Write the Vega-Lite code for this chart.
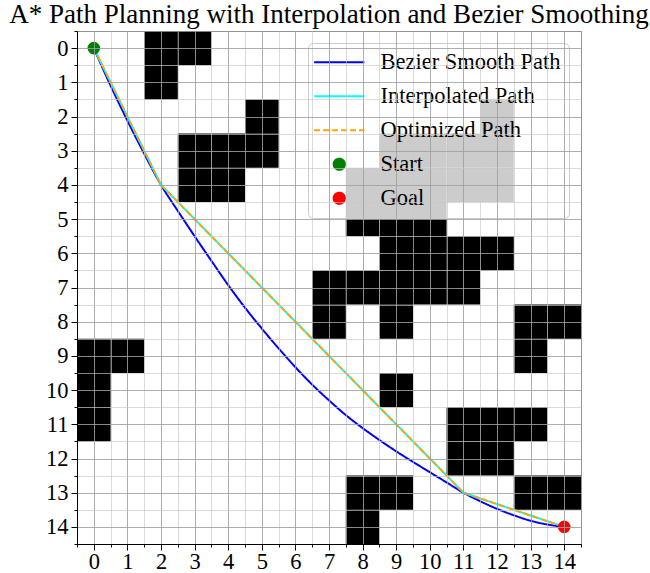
{
  "$schema": "https://vega.github.io/schema/vega-lite/v6.json",
  "width": 504,
  "height": 513,
  "autosize": {"type": "none"},
  "padding": {"left": 77, "top": 31, "right": 69, "bottom": 29},
  "background": "white",
  "title": {
    "text": "A* Path Planning with Interpolation and Bezier Smoothing",
    "font": "Liberation Serif",
    "fontSize": 27,
    "fontWeight": "normal",
    "color": "black",
    "anchor": "middle",
    "offset": 2
  },
  "config": {
    "view": {"stroke": "#333333", "strokeWidth": 1},
    "font": "Liberation Serif"
  },
  "datasets": {
    "obstacles": [
      {"x0": 1.5, "x1": 2.5, "y0": -0.5, "y1": 0.5},
      {"x0": 2.5, "x1": 3.5, "y0": -0.5, "y1": 0.5},
      {"x0": 1.5, "x1": 2.5, "y0": 0.5, "y1": 1.5},
      {"x0": 4.5, "x1": 5.5, "y0": 1.5, "y1": 2.5},
      {"x0": 11.5, "x1": 12.5, "y0": 1.5, "y1": 2.5},
      {"x0": 2.5, "x1": 3.5, "y0": 2.5, "y1": 3.5},
      {"x0": 3.5, "x1": 4.5, "y0": 2.5, "y1": 3.5},
      {"x0": 4.5, "x1": 5.5, "y0": 2.5, "y1": 3.5},
      {"x0": 8.5, "x1": 9.5, "y0": 2.5, "y1": 3.5},
      {"x0": 9.5, "x1": 10.5, "y0": 2.5, "y1": 3.5},
      {"x0": 10.5, "x1": 11.5, "y0": 2.5, "y1": 3.5},
      {"x0": 11.5, "x1": 12.5, "y0": 2.5, "y1": 3.5},
      {"x0": 2.5, "x1": 3.5, "y0": 3.5, "y1": 4.5},
      {"x0": 3.5, "x1": 4.5, "y0": 3.5, "y1": 4.5},
      {"x0": 7.5, "x1": 8.5, "y0": 3.5, "y1": 4.5},
      {"x0": 8.5, "x1": 9.5, "y0": 3.5, "y1": 4.5},
      {"x0": 9.5, "x1": 10.5, "y0": 3.5, "y1": 4.5},
      {"x0": 10.5, "x1": 11.5, "y0": 3.5, "y1": 4.5},
      {"x0": 11.5, "x1": 12.5, "y0": 3.5, "y1": 4.5},
      {"x0": 7.5, "x1": 8.5, "y0": 4.5, "y1": 5.5},
      {"x0": 8.5, "x1": 9.5, "y0": 4.5, "y1": 5.5},
      {"x0": 9.5, "x1": 10.5, "y0": 4.5, "y1": 5.5},
      {"x0": 8.5, "x1": 9.5, "y0": 5.5, "y1": 6.5},
      {"x0": 9.5, "x1": 10.5, "y0": 5.5, "y1": 6.5},
      {"x0": 10.5, "x1": 11.5, "y0": 5.5, "y1": 6.5},
      {"x0": 11.5, "x1": 12.5, "y0": 5.5, "y1": 6.5},
      {"x0": 6.5, "x1": 7.5, "y0": 6.5, "y1": 7.5},
      {"x0": 7.5, "x1": 8.5, "y0": 6.5, "y1": 7.5},
      {"x0": 8.5, "x1": 9.5, "y0": 6.5, "y1": 7.5},
      {"x0": 9.5, "x1": 10.5, "y0": 6.5, "y1": 7.5},
      {"x0": 10.5, "x1": 11.5, "y0": 6.5, "y1": 7.5},
      {"x0": 6.5, "x1": 7.5, "y0": 7.5, "y1": 8.5},
      {"x0": 8.5, "x1": 9.5, "y0": 7.5, "y1": 8.5},
      {"x0": 12.5, "x1": 13.5, "y0": 7.5, "y1": 8.5},
      {"x0": 13.5, "x1": 14.5, "y0": 7.5, "y1": 8.5},
      {"x0": -0.5, "x1": 0.5, "y0": 8.5, "y1": 9.5},
      {"x0": 0.5, "x1": 1.5, "y0": 8.5, "y1": 9.5},
      {"x0": 12.5, "x1": 13.5, "y0": 8.5, "y1": 9.5},
      {"x0": -0.5, "x1": 0.5, "y0": 9.5, "y1": 10.5},
      {"x0": 8.5, "x1": 9.5, "y0": 9.5, "y1": 10.5},
      {"x0": -0.5, "x1": 0.5, "y0": 10.5, "y1": 11.5},
      {"x0": 10.5, "x1": 11.5, "y0": 10.5, "y1": 11.5},
      {"x0": 11.5, "x1": 12.5, "y0": 10.5, "y1": 11.5},
      {"x0": 12.5, "x1": 13.5, "y0": 10.5, "y1": 11.5},
      {"x0": 10.5, "x1": 11.5, "y0": 11.5, "y1": 12.5},
      {"x0": 11.5, "x1": 12.5, "y0": 11.5, "y1": 12.5},
      {"x0": 7.5, "x1": 8.5, "y0": 12.5, "y1": 13.5},
      {"x0": 8.5, "x1": 9.5, "y0": 12.5, "y1": 13.5},
      {"x0": 12.5, "x1": 13.5, "y0": 12.5, "y1": 13.5},
      {"x0": 13.5, "x1": 14.5, "y0": 12.5, "y1": 13.5},
      {"x0": 7.5, "x1": 8.5, "y0": 13.5, "y1": 14.5}
    ],
    "bezier": [
      {"x": 0, "y": 0, "series": "Bezier Smooth Path"},
      {"x": 0.455, "y": 1, "series": "Bezier Smooth Path"},
      {"x": 0.94, "y": 2, "series": "Bezier Smooth Path"},
      {"x": 1.455, "y": 3, "series": "Bezier Smooth Path"},
      {"x": 2, "y": 4, "series": "Bezier Smooth Path"},
      {"x": 2.5, "y": 4.76, "series": "Bezier Smooth Path"},
      {"x": 3, "y": 5.5, "series": "Bezier Smooth Path"},
      {"x": 3.5, "y": 6.22, "series": "Bezier Smooth Path"},
      {"x": 4, "y": 6.93, "series": "Bezier Smooth Path"},
      {"x": 4.5, "y": 7.59, "series": "Bezier Smooth Path"},
      {"x": 5, "y": 8.2, "series": "Bezier Smooth Path"},
      {"x": 5.5, "y": 8.78, "series": "Bezier Smooth Path"},
      {"x": 6, "y": 9.33, "series": "Bezier Smooth Path"},
      {"x": 6.5, "y": 9.84, "series": "Bezier Smooth Path"},
      {"x": 7, "y": 10.3, "series": "Bezier Smooth Path"},
      {"x": 7.5, "y": 10.73, "series": "Bezier Smooth Path"},
      {"x": 8, "y": 11.11, "series": "Bezier Smooth Path"},
      {"x": 8.5, "y": 11.46, "series": "Bezier Smooth Path"},
      {"x": 9, "y": 11.79, "series": "Bezier Smooth Path"},
      {"x": 9.5, "y": 12.1, "series": "Bezier Smooth Path"},
      {"x": 10, "y": 12.4, "series": "Bezier Smooth Path"},
      {"x": 10.5, "y": 12.7, "series": "Bezier Smooth Path"},
      {"x": 11, "y": 13, "series": "Bezier Smooth Path"},
      {"x": 11.5, "y": 13.25, "series": "Bezier Smooth Path"},
      {"x": 12, "y": 13.47, "series": "Bezier Smooth Path"},
      {"x": 12.5, "y": 13.66, "series": "Bezier Smooth Path"},
      {"x": 13, "y": 13.82, "series": "Bezier Smooth Path"},
      {"x": 13.5, "y": 13.93, "series": "Bezier Smooth Path"},
      {"x": 14, "y": 14, "series": "Bezier Smooth Path"}
    ],
    "interp": [
      {"x": 0, "y": 0, "series": "Interpolated Path"},
      {"x": 2, "y": 4, "series": "Interpolated Path"},
      {"x": 11, "y": 13, "series": "Interpolated Path"},
      {"x": 14, "y": 14, "series": "Interpolated Path"}
    ],
    "opt": [
      {"x": 0, "y": 0, "series": "Optimized Path"},
      {"x": 2, "y": 4, "series": "Optimized Path"},
      {"x": 11, "y": 13, "series": "Optimized Path"},
      {"x": 14, "y": 14, "series": "Optimized Path"}
    ],
    "ends": [
      {"x": 0, "y": 0, "series": "Start"},
      {"x": 14, "y": 14, "series": "Goal"}
    ]
  },
  "resolve": {"axis": {"x": "independent", "y": "independent"}},
  "layer": [
    {
      "data": {"name": "obstacles"},
      "mark": {"type": "rect", "color": "black"},
      "encoding": {
        "x": {
          "field": "x0", "type": "quantitative",
          "scale": {"domain": [-0.5, 14.5], "nice": false, "zero": false},
          "axis": {
            "orient": "bottom", "title": null,
            "values": [0, 1, 2, 3, 4, 5, 6, 7, 8, 9, 10, 11, 12, 13, 14],
            "grid": true, "gridColor": "#a0a0a0", "gridOpacity": 0.85, "gridWidth": 1,
            "tickSize": 6, "tickColor": "black", "domainColor": "black",
            "labelFont": "Liberation Serif", "labelFontSize": 22.5, "labelColor": "black",
            "labelPadding": 0, "labelFlush": false, "labelOverlap": false, "zindex": 1
          }
        },
        "x2": {"field": "x1"},
        "y": {
          "field": "y0", "type": "quantitative",
          "scale": {"domain": [-0.5, 14.5], "nice": false, "zero": false, "reverse": true},
          "axis": {
            "orient": "left", "title": null,
            "values": [0, 1, 2, 3, 4, 5, 6, 7, 8, 9, 10, 11, 12, 13, 14],
            "grid": true, "gridColor": "#a0a0a0", "gridOpacity": 0.85, "gridWidth": 1,
            "tickSize": 6, "tickColor": "black", "domainColor": "black",
            "labelFont": "Liberation Serif", "labelFontSize": 22.5, "labelColor": "black",
            "labelPadding": 3, "labelFlush": false, "labelOverlap": false, "zindex": 1
          }
        },
        "y2": {"field": "y1"}
      }
    },
    {
      "data": {"name": "bezier"},
      "mark": {"type": "line", "strokeWidth": 2, "interpolate": "monotone"},
      "encoding": {
        "x": {
          "field": "x", "type": "quantitative",
          "scale": {"domain": [-0.5, 14.5], "nice": false, "zero": false},
          "axis": {
            "orient": "bottom", "title": null,
            "values": [-0.5, 0.5, 1.5, 2.5, 3.5, 4.5, 5.5, 6.5, 7.5, 8.5, 9.5, 10.5, 11.5, 12.5, 13.5, 14.5],
            "grid": true, "gridColor": "#c8c8c8", "gridOpacity": 0.65, "gridWidth": 1,
            "labels": false, "domain": false, "tickSize": 3, "tickColor": "black", "zindex": 1
          }
        },
        "y": {
          "field": "y", "type": "quantitative",
          "scale": {"domain": [-0.5, 14.5], "nice": false, "zero": false, "reverse": true},
          "axis": {
            "orient": "left", "title": null,
            "values": [-0.5, 0.5, 1.5, 2.5, 3.5, 4.5, 5.5, 6.5, 7.5, 8.5, 9.5, 10.5, 11.5, 12.5, 13.5, 14.5],
            "grid": true, "gridColor": "#c8c8c8", "gridOpacity": 0.65, "gridWidth": 1,
            "labels": false, "domain": false, "tickSize": 3, "tickColor": "black", "zindex": 1
          }
        },
        "color": {
          "field": "series", "type": "nominal",
          "scale": {
            "domain": ["Bezier Smooth Path", "Interpolated Path", "Optimized Path", "Start", "Goal"],
            "range": ["#0000ff", "#00ffff", "#ffa500", "#008000", "#ff0000"]
          },
          "legend": {
            "title": null, "orient": "top-right", "offset": 12,
            "labelFont": "Liberation Serif", "labelFontSize": 22.5, "labelColor": "black", "labelLimit": 400,
            "fillColor": "rgba(255,255,255,0.8)", "strokeColor": "#cccccc", "cornerRadius": 5,
            "padding": 8, "rowPadding": 11, "symbolSize": 125, "symbolOffset": 12, "labelOffset": 30,
            "symbolStrokeWidth": 2
          }
        },
        "strokeDash": {
          "field": "series", "type": "nominal",
          "scale": {
            "domain": ["Bezier Smooth Path", "Interpolated Path", "Optimized Path", "Start", "Goal"],
            "range": [[1, 0], [1, 0], [6, 3], [1, 0], [1, 0]]
          }
        }
      }
    },
    {
      "data": {"name": "interp"},
      "mark": {"type": "line", "strokeWidth": 2},
      "encoding": {
        "x": {"field": "x", "type": "quantitative", "axis": null},
        "y": {"field": "y", "type": "quantitative", "axis": null},
        "color": {"field": "series", "type": "nominal"},
        "strokeDash": {"field": "series", "type": "nominal"}
      }
    },
    {
      "data": {"name": "opt"},
      "mark": {"type": "line", "strokeWidth": 2},
      "encoding": {
        "x": {"field": "x", "type": "quantitative", "axis": null},
        "y": {"field": "y", "type": "quantitative", "axis": null},
        "color": {"field": "series", "type": "nominal"},
        "strokeDash": {"field": "series", "type": "nominal"}
      }
    },
    {
      "data": {"name": "ends"},
      "mark": {"type": "point", "filled": true, "size": 160, "opacity": 1},
      "encoding": {
        "x": {"field": "x", "type": "quantitative", "axis": null},
        "y": {"field": "y", "type": "quantitative", "axis": null},
        "color": {"field": "series", "type": "nominal"},
        "shape": {
          "field": "series", "type": "nominal",
          "scale": {
            "domain": ["Bezier Smooth Path", "Interpolated Path", "Optimized Path", "Start", "Goal"],
            "range": ["M-4.5,0H4.5", "M-4.5,0H4.5", "M-4.5,0H4.5", "circle", "circle"]
          }
        }
      }
    }
  ]
}
